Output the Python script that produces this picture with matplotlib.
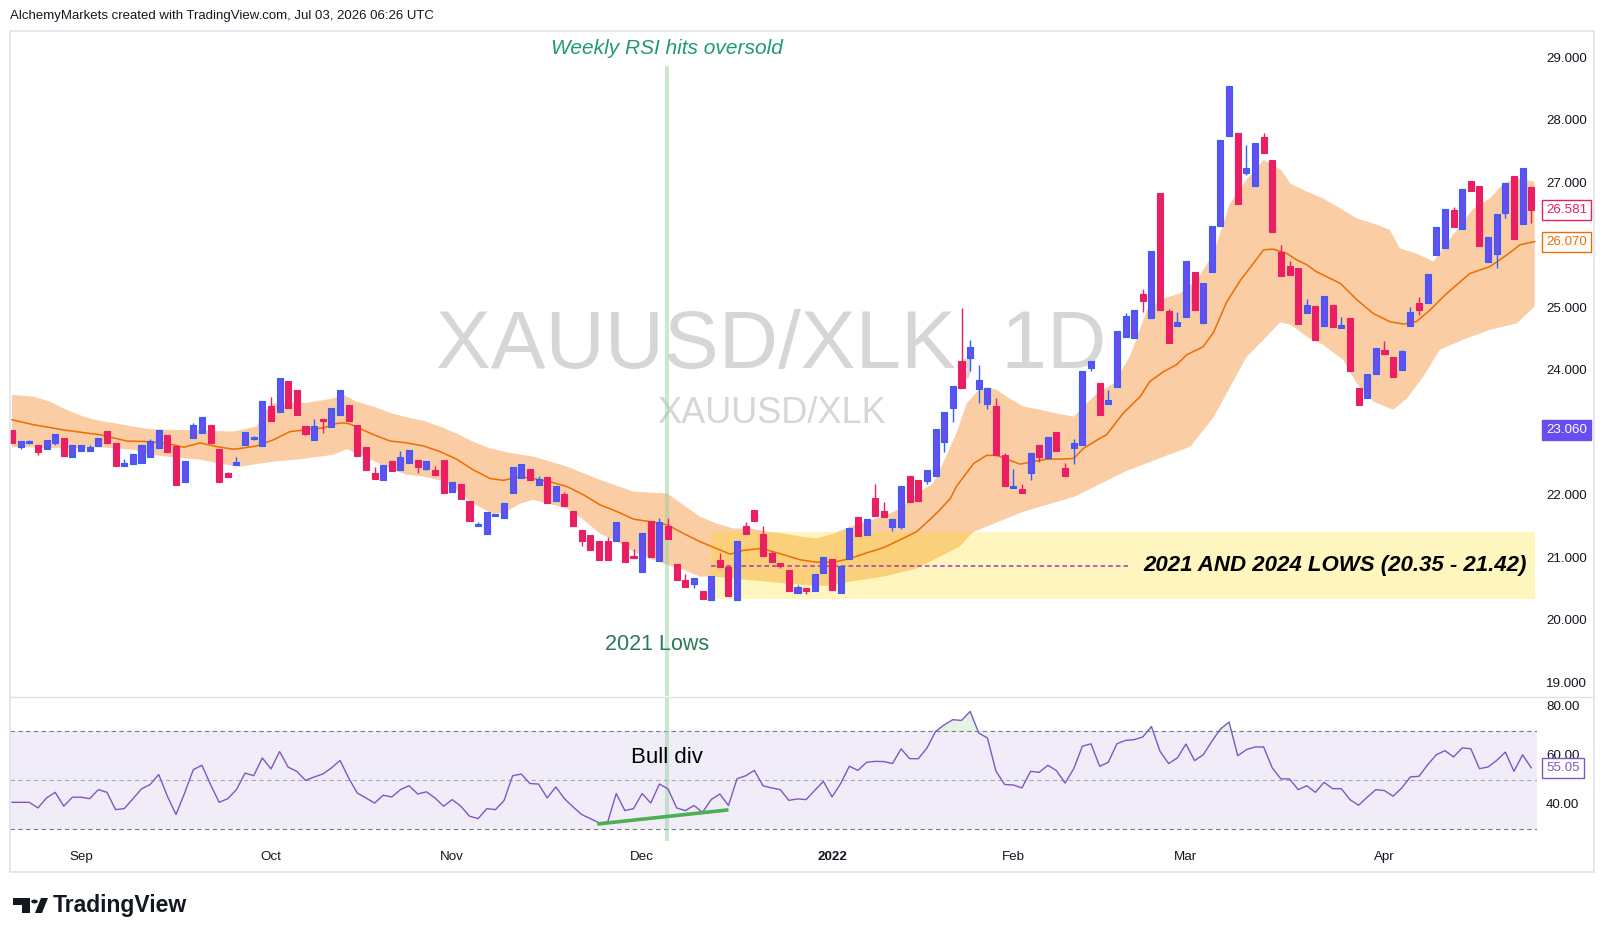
import matplotlib
matplotlib.use("Agg")
import matplotlib.pyplot as plt
from matplotlib.patches import Rectangle, Polygon, Circle
from matplotlib.lines import Line2D
from matplotlib.transforms import blended_transform_factory
import numpy as np

W, H = 1605, 939

# ---------------- data ----------------
opens = [23.06, 22.78, 22.85, 22.82, 22.75, 22.85, 22.93, 22.62, 22.72, 22.72,
         22.80, 23.04, 22.85, 22.48, 22.51, 22.53, 22.62, 22.77, 22.98, 22.80,
         22.22, 22.93, 23.01, 23.14, 22.75, 22.37, 22.50, 22.82, 22.91, 22.80,
         23.44, 23.34, 23.84, 23.70, 23.12, 22.90, 23.22, 23.10, 23.30, 23.46,
         23.14, 22.78, 22.37, 22.26, 22.56, 22.42, 22.53, 22.58, 22.43, 22.42,
         22.58, 22.06, 22.19, 21.92, 21.52, 21.39, 21.68, 21.65, 22.05, 22.29,
         22.43, 22.18, 22.30, 21.92, 22.03, 21.76, 21.46, 21.38, 21.28, 21.28,
         21.28, 21.26, 21.04, 20.78, 21.60, 20.96, 21.52, 20.91, 20.66, 20.59,
         20.48, 20.34, 20.98, 20.86, 20.34, 21.52, 21.78, 21.39, 21.09, 20.93,
         20.82, 20.45, 20.53, 20.48, 20.77, 20.99, 20.45, 20.99, 21.66, 21.38,
         21.97, 21.76, 21.50, 21.50, 22.32, 22.26, 22.24, 22.32, 22.86, 23.41,
         24.16, 24.21, 23.71, 23.47, 23.44, 22.66, 22.13, 22.11, 22.37, 22.82,
         22.61, 23.02, 22.45, 22.77, 22.82, 24.05, 23.81, 23.47, 23.74, 24.54,
         24.53, 25.23, 24.85, 26.85, 24.96, 24.72, 24.86, 25.58, 24.77, 25.58,
         26.32, 27.76, 27.81, 27.17, 26.96, 27.74, 27.38, 25.90, 25.68, 25.65,
         24.93, 25.04, 24.72, 25.06, 24.69, 24.85, 23.73, 23.57, 23.95, 24.34,
         24.22, 24.02, 24.72, 25.09, 25.09, 25.86, 25.97, 26.58, 26.27, 27.04,
         26.96, 25.74, 25.87, 26.53, 27.12, 26.35, 26.94]
highs = [23.06, 22.88, 22.89, 22.82, 22.90, 22.99, 22.93, 22.82, 22.82, 22.82,
         22.93, 23.04, 22.85, 22.59, 22.67, 22.82, 22.91, 23.06, 22.98, 22.80,
         22.56, 23.17, 23.26, 23.14, 22.75, 22.38, 22.62, 23.02, 22.96, 23.52,
         23.58, 23.89, 23.84, 23.70, 23.12, 23.23, 23.22, 23.41, 23.70, 23.46,
         23.14, 22.78, 22.46, 22.50, 22.56, 22.72, 22.74, 22.58, 22.56, 22.48,
         22.58, 22.22, 22.19, 21.92, 21.58, 21.74, 21.70, 21.89, 22.46, 22.51,
         22.43, 22.32, 22.30, 22.16, 22.06, 21.76, 21.46, 21.38, 21.28, 21.34,
         21.58, 21.26, 21.15, 21.41, 21.60, 21.65, 21.65, 20.91, 20.75, 20.69,
         20.48, 20.72, 21.09, 20.86, 21.28, 21.58, 21.78, 21.52, 21.12, 20.93,
         20.82, 20.58, 20.53, 20.75, 21.02, 20.99, 20.88, 21.49, 21.66, 21.63,
         22.19, 21.90, 21.63, 22.16, 22.32, 22.26, 22.42, 23.07, 23.34, 23.76,
         25.01, 24.50, 24.10, 23.73, 23.57, 22.69, 22.43, 22.19, 22.69, 22.82,
         22.94, 23.02, 22.53, 22.91, 24.00, 24.16, 23.81, 23.70, 24.64, 24.93,
         24.98, 25.31, 25.92, 26.85, 24.99, 24.94, 25.76, 25.58, 25.41, 26.32,
         27.70, 28.56, 27.81, 27.62, 27.65, 27.81, 27.38, 26.02, 25.76, 25.65,
         25.15, 25.04, 25.20, 25.06, 24.86, 24.85, 23.73, 23.95, 24.37, 24.48,
         24.22, 24.34, 25.02, 25.18, 25.55, 26.30, 26.59, 26.62, 26.91, 27.04,
         26.96, 26.14, 26.51, 27.01, 27.12, 27.25, 26.94]
lows = [22.85, 22.75, 22.84, 22.66, 22.75, 22.82, 22.64, 22.62, 22.72, 22.72,
        22.80, 22.85, 22.48, 22.48, 22.51, 22.53, 22.62, 22.77, 22.70, 22.18,
        22.22, 22.93, 23.01, 22.85, 22.22, 22.30, 22.50, 22.82, 22.90, 22.80,
        23.20, 23.34, 23.41, 23.30, 22.98, 22.90, 23.01, 23.10, 23.30, 23.20,
        22.64, 22.42, 22.27, 22.26, 22.40, 22.42, 22.53, 22.37, 22.42, 22.34,
        22.05, 22.06, 21.95, 21.60, 21.52, 21.39, 21.68, 21.65, 22.05, 22.29,
        22.26, 22.18, 21.89, 21.92, 21.84, 21.52, 21.20, 21.14, 20.98, 20.98,
        21.28, 20.94, 21.01, 20.78, 21.02, 20.96, 21.31, 20.66, 20.54, 20.53,
        20.35, 20.34, 20.86, 20.40, 20.34, 21.39, 21.60, 21.04, 20.94, 20.85,
        20.48, 20.45, 20.43, 20.48, 20.77, 20.50, 20.45, 20.99, 21.36, 21.38,
        21.68, 21.66, 21.44, 21.47, 21.90, 21.92, 22.19, 22.32, 22.70, 23.18,
        23.73, 24.00, 23.49, 23.39, 22.66, 22.16, 22.13, 22.05, 22.26, 22.54,
        22.61, 22.72, 22.32, 22.51, 22.82, 24.00, 23.30, 23.47, 23.74, 24.54,
        24.53, 24.94, 24.85, 24.98, 24.45, 24.72, 24.86, 24.98, 24.77, 25.58,
        26.32, 27.76, 26.67, 27.14, 26.96, 27.49, 26.22, 25.52, 25.54, 24.75,
        24.93, 24.50, 24.72, 24.70, 24.69, 24.00, 23.46, 23.57, 23.95, 24.27,
        23.90, 24.02, 24.72, 24.90, 25.09, 25.86, 25.97, 26.30, 26.27, 26.88,
        26.00, 25.74, 25.65, 26.45, 26.11, 26.35, 26.37]
closes = [22.85, 22.88, 22.88, 22.70, 22.90, 22.99, 22.64, 22.82, 22.82, 22.78,
          22.93, 22.85, 22.48, 22.53, 22.67, 22.82, 22.88, 23.06, 22.70, 22.18,
          22.56, 23.14, 23.26, 22.85, 22.22, 22.30, 22.54, 23.02, 22.94, 23.52,
          23.20, 23.89, 23.41, 23.30, 22.99, 23.12, 23.20, 23.41, 23.70, 23.20,
          22.64, 22.42, 22.27, 22.50, 22.40, 22.62, 22.74, 22.46, 22.56, 22.34,
          22.05, 22.22, 21.95, 21.60, 21.55, 21.74, 21.70, 21.89, 22.46, 22.51,
          22.26, 22.27, 21.89, 22.16, 21.84, 21.52, 21.28, 21.14, 20.98, 20.98,
          21.58, 20.94, 21.01, 21.41, 21.02, 21.58, 21.31, 20.66, 20.54, 20.69,
          20.35, 20.72, 20.86, 20.40, 21.28, 21.39, 21.60, 21.04, 20.94, 20.88,
          20.48, 20.54, 20.48, 20.75, 21.02, 20.50, 20.88, 21.49, 21.36, 21.63,
          21.68, 21.66, 21.63, 22.16, 21.90, 21.92, 22.42, 23.07, 23.34, 23.76,
          23.73, 24.38, 23.86, 23.73, 22.66, 22.16, 22.16, 22.05, 22.69, 22.62,
          22.94, 22.72, 22.32, 22.85, 24.00, 24.16, 23.30, 23.54, 24.64, 24.88,
          24.98, 25.12, 25.92, 24.98, 24.45, 24.78, 25.76, 24.98, 25.41, 26.32,
          27.70, 28.56, 26.67, 27.25, 27.65, 27.49, 26.22, 25.52, 25.54, 24.75,
          25.06, 24.50, 25.20, 24.70, 24.74, 24.00, 23.46, 23.95, 24.37, 24.27,
          23.90, 24.32, 24.94, 24.98, 25.55, 26.30, 26.59, 26.30, 26.91, 26.88,
          26.00, 26.14, 26.51, 27.01, 26.11, 27.25, 26.58]

# envelope: (bar, value)
band_upper_pts = [
    (0.0, 23.62), (2.5, 23.59), (4.4, 23.51), (6.3, 23.38), (8.3, 23.27), (10.2, 23.20),
    (12.1, 23.16), (14.1, 23.11), (16.0, 23.07), (17.9, 23.06), (21.8, 23.05), (25.6, 23.03),
    (28.3, 23.11), (29.5, 23.38), (30.3, 23.48), (34.1, 23.49), (37.2, 23.56), (38.4, 23.62),
    (39.9, 23.51), (41.9, 23.43), (43.8, 23.33), (45.7, 23.26), (47.7, 23.20), (49.6, 23.11),
    (51.5, 23.00), (53.4, 22.87), (55.4, 22.76), (57.3, 22.70), (60.4, 22.63), (64.3, 22.47),
    (68.1, 22.26), (72.0, 22.07), (75.9, 22.04), (79.7, 21.67), (81.6, 21.56), (83.6, 21.48),
    (85.5, 21.48), (87.4, 21.43), (89.4, 21.40), (91.3, 21.35), (93.2, 21.32), (95.2, 21.40),
    (97.1, 21.51), (99.0, 21.59), (100.9, 21.67), (102.9, 21.80), (104.8, 22.04), (106.7, 22.20),
    (107.5, 22.42), (109.4, 23.00), (110.6, 23.48), (111.8, 23.67), (112.9, 23.74), (114.1, 23.70),
    (115.2, 23.59), (117.2, 23.43), (119.1, 23.38), (121.0, 23.32), (123.0, 23.27), (124.5, 23.48),
    (125.7, 23.64), (127.6, 23.80), (129.5, 24.23), (131.5, 24.98), (133.4, 25.16), (135.3, 25.24),
    (137.3, 25.46), (139.2, 25.88), (141.1, 26.68), (143.0, 27.06), (145.0, 27.38), (147.0, 27.22),
    (148.1, 27.00), (150.0, 26.87), (151.9, 26.76), (153.9, 26.60), (155.8, 26.44), (157.7, 26.36),
    (159.6, 26.26), (160.8, 25.96), (162.7, 25.88), (164.7, 25.75), (166.2, 26.04), (168.1, 26.39),
    (169.3, 26.60), (171.2, 26.76), (172.8, 27.00), (174.3, 27.08), (176.4, 27.03)]
band_mid_pts = [
    (0.0, 23.22), (2.5, 23.14), (6.3, 23.05), (10.2, 22.98), (13.3, 22.88), (16.0, 22.87),
    (18.7, 22.82), (19.9, 22.78), (21.8, 22.85), (23.7, 22.79), (25.6, 22.75), (26.4, 22.76),
    (28.3, 22.80), (30.3, 22.90), (32.2, 23.03), (34.1, 23.06), (36.1, 23.09), (37.6, 23.16),
    (38.4, 23.17), (39.2, 23.15), (40.3, 23.08), (41.9, 22.98), (43.8, 22.88), (45.7, 22.85),
    (47.7, 22.80), (49.6, 22.71), (51.5, 22.59), (53.4, 22.42), (55.4, 22.28), (56.9, 22.25),
    (58.9, 22.31), (60.4, 22.28), (62.3, 22.23), (64.3, 22.15), (66.2, 22.02), (68.1, 21.86),
    (70.1, 21.75), (72.0, 21.63), (73.9, 21.59), (75.9, 21.54), (77.8, 21.40), (79.7, 21.27),
    (81.6, 21.16), (83.2, 21.07), (84.7, 21.13), (86.7, 21.16), (87.4, 21.14), (89.4, 21.06),
    (91.3, 20.98), (93.2, 20.94), (95.2, 20.94), (97.1, 21.00), (99.0, 21.09), (100.9, 21.17),
    (102.9, 21.30), (104.8, 21.43), (106.7, 21.67), (107.5, 21.78), (108.7, 21.96), (109.4, 22.15),
    (111.4, 22.52), (112.9, 22.65), (114.1, 22.65), (115.2, 22.59), (116.8, 22.51), (118.3, 22.55),
    (119.9, 22.59), (121.4, 22.59), (123.0, 22.60), (124.1, 22.76), (126.0, 22.92), (126.8, 22.98),
    (128.7, 23.32), (130.7, 23.59), (131.8, 23.83), (133.4, 23.99), (134.9, 24.10), (136.1, 24.26),
    (138.0, 24.39), (139.2, 24.62), (140.7, 25.10), (142.3, 25.45), (143.8, 25.72), (145.0, 25.94),
    (146.1, 25.95), (147.7, 25.88), (148.8, 25.78), (150.0, 25.70), (151.1, 25.59), (153.9, 25.40),
    (155.8, 25.14), (157.7, 24.92), (159.6, 24.79), (161.2, 24.75), (162.7, 24.79), (164.3, 24.98),
    (166.2, 25.24), (168.9, 25.56), (171.2, 25.67), (173.2, 25.86), (174.7, 26.02), (176.4, 26.07)]
band_lower_pts = [
    (0.0, 22.78), (2.5, 22.78), (6.3, 22.76), (10.2, 22.78), (14.1, 22.74), (16.0, 22.66),
    (18.7, 22.62), (21.8, 22.58), (25.6, 22.48), (26.4, 22.47), (30.3, 22.55), (34.1, 22.60),
    (37.2, 22.66), (38.8, 22.75), (40.3, 22.66), (41.9, 22.56), (43.8, 22.44), (45.7, 22.34),
    (47.7, 22.31), (49.6, 22.25), (51.5, 22.10), (53.4, 21.88), (55.8, 21.71), (57.3, 21.75),
    (58.9, 21.88), (60.4, 21.94), (64.3, 21.80), (66.2, 21.62), (68.1, 21.40), (70.1, 21.27),
    (72.0, 21.11), (73.9, 21.00), (75.9, 20.90), (77.8, 20.82), (79.7, 20.71), (81.3, 20.71),
    (83.6, 20.68), (87.4, 20.63), (91.3, 20.58), (94.4, 20.56), (97.1, 20.63), (100.9, 20.71),
    (104.8, 20.84), (109.8, 21.19), (111.3, 21.42), (117.2, 21.75), (123.1, 21.99), (129.1, 22.40),
    (136.5, 22.79), (139.2, 23.26), (141.1, 23.74), (143.0, 24.22), (145.0, 24.50), (146.9, 24.78),
    (148.1, 24.74), (150.0, 24.55), (151.9, 24.42), (154.2, 24.18), (155.8, 23.80), (157.7, 23.51),
    (160.0, 23.38), (161.6, 23.56), (163.5, 23.91), (165.4, 24.34), (168.1, 24.50), (171.2, 24.66),
    (174.3, 24.76), (176.4, 25.03)]

rsi = [40.9, 40.9, 40.9, 38.6, 42.7, 45.0, 39.3, 43.0, 43.0, 42.4,
       46.1, 45.0, 37.9, 38.3, 42.3, 46.4, 48.2, 52.3, 43.4, 35.9,
       44.7, 54.3, 56.1, 48.2, 40.9, 42.4, 46.1, 52.9, 51.8, 59.1,
       54.6, 61.7, 55.3, 53.6, 49.9, 51.3, 52.5, 55.0, 58.1, 50.9,
       44.7, 42.7, 40.6, 43.8, 43.1, 46.1, 47.7, 44.3, 45.2, 42.7,
       39.3, 42.0, 39.3, 35.2, 34.2, 38.3, 37.9, 41.6, 51.8, 52.5,
       48.6, 48.4, 42.7, 47.2, 42.4, 39.0, 35.9, 34.2, 32.5, 32.7,
       44.5, 37.5, 38.3, 44.5, 40.6, 48.4, 46.4, 38.6, 37.5, 39.6,
       36.8, 42.0, 44.3, 39.6, 50.6, 51.8, 54.0, 47.7, 46.8, 46.1,
       41.7, 42.3, 42.0, 45.8, 49.5, 43.1, 48.6, 55.7, 54.0, 57.3,
       57.7, 57.6, 56.8, 62.8, 58.8, 58.8, 63.2, 70.0, 72.7, 74.8,
       74.5, 78.2, 69.3, 67.3, 53.6, 48.2, 48.0, 46.8, 53.6, 53.2,
       56.1, 53.9, 48.8, 54.7, 63.9, 64.9, 55.7, 57.3, 64.9, 66.3,
       66.6, 67.7, 72.0, 61.8, 56.8, 59.1, 64.8, 58.0, 60.4, 65.9,
       71.0, 73.8, 60.0, 62.5, 63.6, 63.6, 55.0, 50.5, 50.5, 46.1,
       47.7, 45.0, 49.1, 46.5, 46.5, 42.0, 39.7, 43.0, 46.1, 45.7,
       43.4, 46.8, 51.3, 51.6, 56.3, 60.4, 62.1, 59.5, 63.2, 62.9,
       54.7, 55.4, 58.1, 61.5, 53.6, 60.4, 55.05]

month_labels = ['Sep', 'Oct', 'Nov', 'Dec', '2022', 'Feb', 'Mar', 'Apr']
month_bars = [8, 30, 51, 73, 95, 116, 136, 159]
price_ticks = [19, 20, 21, 22, 24, 25, 27, 28, 29]
rsi_ticks = [80, 60, 40]
zone_low, zone_high = 20.35, 21.42
zone_mid = 20.885
zone_first_bar = 81
last_close = 26.581
ma_last = 26.070
other_level = 23.060
rsi_last = 55.05
oversold_bar = 75.85
div_bars = [67.8, 83.0]
div_rsi = [32.0, 37.8]

# ---------------- layout helpers ----------------
def fx(x):
    return x / W

def fy(y):
    return 1 - y / H

FONT = 'Liberation Sans'
TXT = '#131722'

fig = plt.figure(figsize=(W / 100, H / 100), dpi=100)
fig.patch.set_facecolor('white')

X0, X1 = 10.2, 1537.0
PT, PB = 30.7, 696.0
RT, RB = 697.0, 841.0

ax = fig.add_axes([fx(X0), fy(PB), (X1 - X0) / W, (PB - PT) / H])
ax.set_facecolor('none')
ax.set_xlim(-0.2085, 176.669)
ax.set_ylim(18.80, 29.445)
ax.axis('off')

axr = fig.add_axes([fx(X0), fy(RB), (X1 - X0) / W, (RB - RT) / H])
axr.set_facecolor('none')
axr.set_xlim(-0.2085, 176.669)
axr.set_ylim(25.03, 84.10)
axr.axis('off')

# frame & separator
fig.add_artist(Rectangle((fx(10.2), fy(872)), (1594 - 10.2) / W, (872 - 30.7) / H,
                         transform=fig.transFigure, fill=False, ec='#E0E3EB', lw=1.2))
fig.add_artist(Line2D([fx(10.2), fx(1594)], [fy(696.5), fy(696.5)],
                      transform=fig.transFigure, color='#E0E3EB', lw=1.0))

# header
fig.text(fx(10), fy(16.5), 'AlchemyMarkets created with TradingView.com, Jul 03, 2026 06:26 UTC',
         fontsize=9.5, color=TXT, va='center', ha='left', family=FONT)

# watermark
ax.text(fx(771), fy(367), 'XAUUSD/XLK, 1D', transform=fig.transFigure, fontsize=59,
        color='#D6D6D6', ha='center', va='baseline', family=FONT, zorder=0.2)
ax.text(fx(772), fy(423), 'XAUUSD/XLK', transform=fig.transFigure, fontsize=26,
        color='#D6D6D6', ha='center', va='baseline', family=FONT, zorder=0.2)

# band + MA
ux, uy = zip(*band_upper_pts)
mx, my = zip(*band_mid_pts)
lx, ly = zip(*band_lower_pts)
ax.fill(list(ux) + list(lx)[::-1], list(uy) + list(ly)[::-1], color='#FACDA5', lw=0, zorder=1)
ax.add_patch(Rectangle((zone_first_bar, zone_low), 176.43 - zone_first_bar, zone_high - zone_low,
                       facecolor='#FFDC00', alpha=0.25, lw=0, zorder=1.5))
ax.plot(mx, my, color='#EF6C00', lw=1.1, zorder=3)
ax.plot([zone_first_bar, 129.6], [zone_mid, zone_mid], color='#A63AAE', lw=1.1,
        ls=(0, (3, 2)), zorder=2.5)

# vertical oversold line
ax.axvline(oversold_bar, ymin=0, ymax=(PB - 67.5) / (PB - PT), color='#96D2A0', alpha=0.5,
           lw=2.9, zorder=2.6)
axr.axvline(oversold_bar, color='#96D2A0', alpha=0.5, lw=2.9, zorder=2.6)

# candles
x = np.arange(len(opens))
o = np.array(opens); c = np.array(closes); h = np.array(highs); l = np.array(lows)
up = c >= o
lo = np.minimum(o, c)
bh = np.maximum(np.abs(c - o), 0.03)
ax.vlines(x[up], l[up], h[up], color='#2962FF', lw=1.0, zorder=4)
ax.vlines(x[~up], l[~up], h[~up], color='#E91E63', lw=1.0, zorder=4)
ax.bar(x[up], bh[up], bottom=lo[up], width=0.70, color='#6A4DEE', edgecolor='#2962FF',
       linewidth=0.8, zorder=5)
ax.bar(x[~up], bh[~up], bottom=lo[~up], width=0.70, color='#E91E63', edgecolor='#E91E63',
       linewidth=0.8, zorder=5)

# annotations (price pane)
ax.text(oversold_bar, 29.168, 'Weekly RSI hits oversold', ha='center', va='center',
        fontsize=15, style='italic', color='#1E9A78', family=FONT, zorder=6)
ax.text(74.75, 19.62, '2021 Lows', ha='center', va='center', fontsize=15.5,
        color='#2A7A56', family=FONT, zorder=6)
ax.text(175.5, zone_mid, '2021 AND 2024 LOWS (20.35 - 21.42)', ha='right', va='center',
        fontsize=16, fontweight='bold', style='italic', color='#000000', family=FONT, zorder=6)

# price scale
trp = blended_transform_factory(fig.transFigure, ax.transData)
for v in price_ticks:
    ax.text(fx(1546), v, f'{v:.3f}', transform=trp, ha='left', va='center', fontsize=9.6,
            color=TXT, family=FONT, clip_on=False)
for val, fc, ec, tc in [(last_close, 'white', '#E91E63', '#E91E63'),
                        (ma_last, 'white', '#EF6C00', '#EF6C00'),
                        (other_level, '#6A4DEE', '#6A4DEE', 'white')]:
    ax.text(fx(1546), val, f'{val:.3f}', transform=trp, ha='left', va='center', fontsize=9.6,
            color=tc, family=FONT, clip_on=False,
            bbox=dict(boxstyle='square,pad=0.3', fc=fc, ec=ec, lw=1.0))

# RSI pane
xr = np.arange(len(rsi))
r = np.array(rsi)
axr.axhspan(30, 70, color='#7E57C2', alpha=0.1, lw=0, zorder=0.5)
for lvl, a in [(70, 1.0), (50, 0.6), (30, 1.0)]:
    axr.axhline(lvl, color='#787B86', lw=0.8, ls=(0, (4, 3)), alpha=a, zorder=1)
axr.fill_between(xr, 70, r, where=r > 70, interpolate=True, color='#4CAF50', alpha=0.15,
                 lw=0, zorder=1.5)
axr.plot(xr, r, color='#7E57C2', lw=1.0, zorder=3)
axr.plot(div_bars, div_rsi, color='#4CAF50', lw=2.6, solid_capstyle='butt', zorder=4)
axr.text(oversold_bar, 59.3, 'Bull div', ha='center', va='center', fontsize=16,
         color='#000000', family=FONT, zorder=5)

trr = blended_transform_factory(fig.transFigure, axr.transData)
for v in rsi_ticks:
    axr.text(fx(1546), v, f'{v:.2f}', transform=trr, ha='left', va='center', fontsize=9.6,
             color=TXT, family=FONT, clip_on=False)
axr.text(fx(1546), rsi_last, f'{rsi_last:.2f}', transform=trr, ha='left', va='center',
         fontsize=9.6, color='#7E57C2', family=FONT, clip_on=False,
         bbox=dict(boxstyle='square,pad=0.3', fc='white', ec='#7E57C2', lw=1.0))

# time axis
trt = blended_transform_factory(axr.transData, fig.transFigure)
for lab, b in zip(month_labels, month_bars):
    axr.text(b, fy(857), lab, transform=trt, ha='center', va='center', fontsize=9.6,
             color=TXT, family=FONT, fontweight='bold' if lab == '2022' else 'normal',
             clip_on=False)

# TradingView logo
fig.add_artist(Polygon([(fx(13), fy(898)), (fx(30), fy(898)), (fx(30), fy(913)),
                        (fx(22), fy(913)), (fx(22), fy(905)), (fx(13), fy(905))],
                       closed=True, transform=fig.transFigure, fc='#131722', ec='none'))
fig.add_artist(Circle((fx(34.5), fy(901.5)), 3.3 / W, transform=fig.transFigure,
                      fc='#131722', ec='none'))
fig.add_artist(Polygon([(fx(35), fy(913)), (fx(41), fy(898)), (fx(48), fy(898)), (fx(42), fy(913))],
                       closed=True, transform=fig.transFigure, fc='#131722', ec='none'))
fig.text(fx(53), fy(905.5), 'TradingView', fontsize=16.5, fontweight='bold', color='#131722',
         va='center', ha='left', family=FONT)

fig.savefig('out.png', dpi=100, facecolor='white')
